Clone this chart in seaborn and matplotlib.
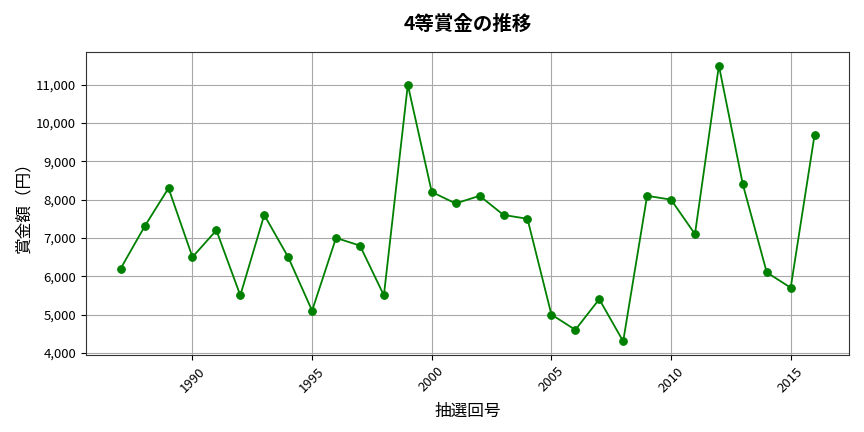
import matplotlib
matplotlib.use("Agg")
import matplotlib.pyplot as plt
import matplotlib.ticker as mticker
import seaborn as sns
import pandas as pd

years = list(range(1987, 2017))
prizes = [6200, 7300, 8300, 6500, 7200, 5500, 7600, 6500, 5100, 7000,
          6800, 5500, 11000, 8200, 7900, 8100, 7600, 7500, 5000, 4600,
          5400, 4300, 8100, 8000, 7100, 11500, 8400, 6100, 5700, 9700]

sns.set_style("ticks")
plt.rcParams['font.family'] = ['Noto Sans CJK JP', 'DejaVu Sans']
plt.rcParams['text.color'] = 'black'
plt.rcParams['axes.labelcolor'] = 'black'
plt.rcParams['xtick.color'] = 'black'
plt.rcParams['ytick.color'] = 'black'

df = pd.DataFrame({"year": years, "prize": prizes})

fig = plt.figure(figsize=(8.64, 4.32), dpi=100)
ax = fig.add_axes([0.0995, 0.178, 0.8835, 0.702])
sns.lineplot(data=df, x="year", y="prize", ax=ax, color="green", marker="o",
             markersize=5.5, markeredgecolor="green", linewidth=1.3)
ax.grid(True, color="#a8a8a8", linewidth=0.8)
ax.yaxis.set_major_formatter(mticker.FuncFormatter(lambda v, p: f"{int(v):,}"))
ax.xaxis.set_major_locator(mticker.MultipleLocator(5))
ax.tick_params(axis="x", labelrotation=45, labelsize=9.5)
ax.tick_params(axis="y", labelsize=9.5)
for s in ax.spines.values():
    s.set_visible(True)
    s.set_color("#333333")
ax.set_xlabel("抽選回号", fontsize=12, labelpad=6)
ax.set_ylabel("賞金額（円）", fontsize=12, labelpad=3)
ax.set_title("4等賞金の推移", fontsize=14, fontweight="bold", pad=16)
fig.savefig("out.png", dpi=100)
